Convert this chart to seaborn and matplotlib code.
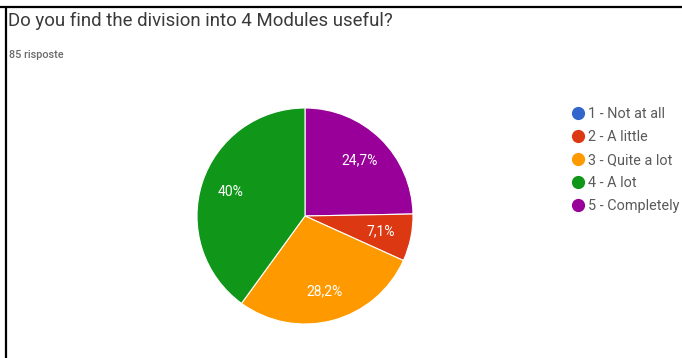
import matplotlib
matplotlib.use("Agg")
import matplotlib.pyplot as plt
from matplotlib.lines import Line2D
import seaborn as sns

# Survey answers (85 responses)
labels = ["1 - Not at all", "2 - A little", "3 - Quite a lot", "4 - A lot", "5 - Completely"]
counts = [0, 6, 24, 34, 21]
colors = ["#3366cc", "#dc3912", "#ff9900", "#109618", "#990099"]
# clockwise order of the slices starting at 12 o'clock
slice_order = [4, 1, 2, 3]

title = "Do you find the division into 4 Modules useful?"
subtitle = "85 risposte"

sns.set_theme(style="white")
plt.rcParams["font.family"] = ["Roboto", "DejaVu Sans"]

W, H, DPI = 682, 358, 100
fig = plt.figure(figsize=(W / DPI, H / DPI), dpi=DPI)
fig.patch.set_facecolor("white")


def px_box(x, y, w, h):
    return [x / W, 1 - (y + h) / H, w / W, h / H]


# frame lines of the card
frame = fig.add_axes([0, 0, 1, 1], zorder=0)
frame.set_xlim(0, W)
frame.set_ylim(H, 0)
frame.axis("off")
frame.plot([0, W], [6.5, 6.5], color="black", lw=1.6, solid_capstyle="butt")
frame.plot([6, 6], [6.5, H], color="black", lw=1.6, solid_capstyle="butt")

fig.text(8 / W, 1 - 21 / H, title, fontsize=13.4, color="#3a3a3a",
         va="center", ha="left")
fig.text(9 / W, 1 - 55 / H, subtitle, fontsize=7.8, color="#6a6a6a",
         va="center", ha="left", fontweight="medium")

ax = fig.add_axes(px_box(197, 108, 216, 216))
vals = [counts[i] for i in slice_order]
cols = [colors[i] for i in slice_order]


def fmt(pct):
    s = f"{pct:.1f}".replace(".", ",")
    return s[:-2] + "%" if s.endswith(",0") else s + "%"


wedges, _, autotexts = ax.pie(
    vals, colors=cols, startangle=90, counterclock=False,
    autopct=fmt, pctdistance=0.72,
    wedgeprops=dict(edgecolor="white", linewidth=0.8),
    textprops=dict(color="white", fontsize=10),
)
ax.set_xlim(-1.0, 1.0)
ax.set_ylim(-1.0, 1.0)
ax.set_aspect("equal")
ax.axis("off")

handles = [Line2D([0], [0], marker="o", linestyle="none", markersize=8.5,
                  markerfacecolor=c, markeredgecolor=c) for c in colors]
fig.legend(handles, labels, loc="upper left",
           bbox_to_anchor=(572 / W, 1 - 107 / H), frameon=False,
           fontsize=10.4, labelcolor="#5a5a5a", handlelength=0.88,
           handletextpad=0.25, labelspacing=0.62, borderpad=0, borderaxespad=0)

fig.savefig("out.png", dpi=DPI, facecolor="white")
